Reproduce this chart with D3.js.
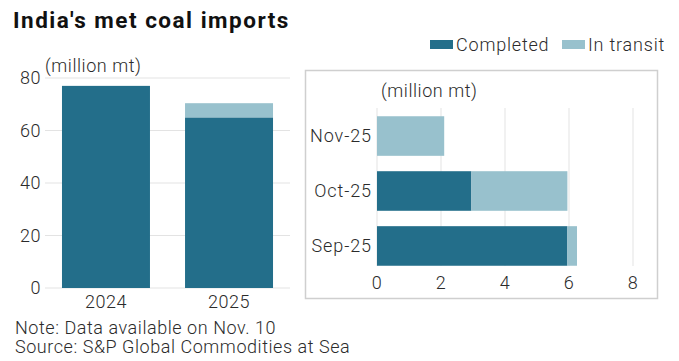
<!DOCTYPE html>
<html><head><meta charset="utf-8">
<script src="https://cdn.jsdelivr.net/npm/d3@7/dist/d3.min.js"></script>
<style>
body{margin:0;background:#fff;}
svg text{font-family:Roboto, "Noto Sans", sans-serif;fill:#2b2b2b;font-weight:300;font-size:18px;letter-spacing:0.55px;}
</style></head><body>
<svg id="c" width="679" height="361"></svg>
<script>
// Data
const years = ["2024", "2025"];
const yearCompleted = [77, 65];
const yearTransit = [0, 5.4];
const months = ["Sep-25", "Oct-25", "Nov-25"];
const monthCompleted = [5.95, 2.95, 0];
const monthTransit = [0.3, 3.0, 2.1];
const yTicks = [0, 20, 40, 60, 80];
const xTicks = [0, 2, 4, 6, 8];
const seriesNames = ["Completed", "In transit"];
const colors = ["#236e8a", "#98c1cd"];

const svg = d3.select("#c");

// Title
svg.append("text").attr("x", 13).attr("y", 28).text("India's met coal imports")
  .style("font-size", "22.5px").style("font-weight", "700").style("fill", "#111").style("letter-spacing", "1.5px");

// Legend
const leg = svg.append("g");
const legX = [430, 562];
seriesNames.forEach((n, i) => {
  leg.append("rect").attr("x", legX[i]).attr("y", 40).attr("width", 23).attr("height", 9).attr("fill", colors[i]);
  leg.append("text").attr("x", legX[i] + 26).attr("y", 51).text(n).style("letter-spacing", "0.8px");
});

// Left chart
const y = d3.scaleLinear().domain([0, 80]).range([288, 78]);
const x = d3.scaleBand().domain(years).range([45, 290]).paddingInner(0.285).paddingOuter(0.138);
const gl = svg.append("g");
gl.selectAll("line.g").data(yTicks).join("line")
  .attr("x1", 45).attr("x2", 290).attr("y1", d => y(d)).attr("y2", d => y(d))
  .attr("stroke", "#e3e3e3").attr("stroke-width", 1);
gl.selectAll("text.yt").data(yTicks).join("text")
  .attr("x", 41).attr("y", d => y(d) + 6).attr("text-anchor", "end").text(d => d);
gl.append("text").attr("x", 45).attr("y", 72).text("(million mt)");
years.forEach((yr, i) => {
  gl.append("rect").attr("x", x(yr)).attr("width", x.bandwidth())
    .attr("y", y(yearCompleted[i])).attr("height", y(0) - y(yearCompleted[i])).attr("fill", colors[0]);
  if (yearTransit[i] > 0)
    gl.append("rect").attr("x", x(yr)).attr("width", x.bandwidth())
      .attr("y", y(yearCompleted[i] + yearTransit[i])).attr("height", y(0) - y(yearTransit[i])).attr("fill", colors[1]);
  gl.append("text").attr("x", x(yr) + x.bandwidth() / 2).attr("y", 308).attr("text-anchor", "middle").text(yr);
});

// Right panel
svg.append("rect").attr("x", 305.5).attr("y", 70.5).attr("width", 352).attr("height", 228)
  .attr("fill", "none").attr("stroke", "#cfcfcf").attr("stroke-width", 1.5);
const xr = d3.scaleLinear().domain([0, 8]).range([377, 633]);
const yr = d3.scaleBand().domain(months.slice().reverse()).range([108, 274]).paddingInner(0.28).paddingOuter(0.15);
const gr = svg.append("g");
gr.selectAll("line").data(xTicks).join("line")
  .attr("x1", d => xr(d)).attr("x2", d => xr(d)).attr("y1", 108).attr("y2", 266)
  .attr("stroke", "#e3e3e3");
gr.selectAll("text.xt").data(xTicks).join("text")
  .attr("x", d => xr(d)).attr("y", 289).attr("text-anchor", "middle").text(d => d);
gr.append("text").attr("x", 381).attr("y", 97).text("(million mt)");
months.forEach((m, i) => {
  const by = yr(m), bh = yr.bandwidth();
  if (monthCompleted[i] > 0)
    gr.append("rect").attr("x", xr(0)).attr("y", by).attr("height", bh)
      .attr("width", xr(monthCompleted[i]) - xr(0)).attr("fill", colors[0]);
  gr.append("rect").attr("x", xr(monthCompleted[i])).attr("y", by).attr("height", bh)
    .attr("width", xr(monthTransit[i]) - xr(0)).attr("fill", colors[1]);
  gr.append("text").attr("x", 372).attr("y", by + bh / 2 + 6).attr("text-anchor", "end").text(m).style("letter-spacing", "0.9px");
});

// Footer
svg.append("text").attr("x", 15).attr("y", 334).text("Note: Data available on Nov. 10");
svg.append("text").attr("x", 15).attr("y", 353).text("Source: S&P Global Commodities at Sea");
</script></body></html>
